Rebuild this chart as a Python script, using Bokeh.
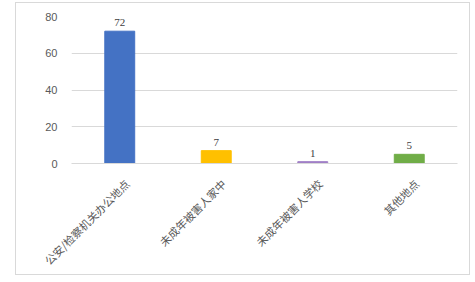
import math
from bokeh.plotting import figure
from bokeh.models import ColumnDataSource, LabelSet, FixedTicker, Range1d, LinearAxis
from bokeh.embed import file_html
from bokeh.resources import INLINE

categories = ["公安/检察机关办公地点", "未成年被害人家中", "未成年被害人学校", "其他地点"]
counts = [72, 7, 1, 5]
colors = ["#4472C4", "#FFC000", "#A17FC6", "#70AD47"]
y_ticks = [0, 20, 40, 60, 80]

n = len(categories)
pos = list(range(n))
src = ColumnDataSource(dict(x=pos, val=counts, col=colors, txt=[str(v) for v in counts]))

p = figure(x_range=Range1d(-0.5, n - 0.5), y_range=(0, 80), width=455, height=273,
           output_backend="svg", toolbar_location=None,
           min_border_left=55, min_border_right=14, min_border_top=13, min_border_bottom=10)
p.margin = (2, 0, 0, 15)
p.styles = {"border": "1px solid #d9d9d9"}
p.vbar(x="x", top="val", width=0.31, color="col", source=src)

labels = LabelSet(x="x", y="val", text="txt", source=src, text_align="center",
                  text_baseline="bottom", y_offset=5, text_font_size="11px",
                  text_color="#404040", text_font="Noto Sans CJK SC")
p.add_layout(labels)

# label axis, shifted slightly to the right of the bar centres
shift = 0.075
p.extra_x_ranges = {"lab": Range1d(-0.5 - shift, n - 0.5 - shift)}
lab_axis = LinearAxis(x_range_name="lab", ticker=FixedTicker(ticks=pos),
                      major_label_overrides={i: c for i, c in zip(pos, categories)})
lab_axis.axis_line_color = "#d9d9d9"
lab_axis.major_tick_line_color = None
lab_axis.minor_tick_line_color = None
lab_axis.major_label_orientation = math.pi / 4
lab_axis.major_label_text_color = "#595959"
lab_axis.major_label_text_font_size = "11px"
lab_axis.major_label_text_font = "Noto Sans CJK SC"
lab_axis.major_label_standoff = 12
p.xaxis.visible = False
p.add_layout(lab_axis, "below")

p.outline_line_color = None
p.xgrid.grid_line_color = None
p.ygrid.grid_line_color = "#d9d9d9"
p.yaxis.ticker = FixedTicker(ticks=y_ticks)
p.yaxis.axis_line_color = None
p.yaxis.major_tick_line_color = None
p.yaxis.minor_tick_line_color = None
p.yaxis.major_label_text_color = "#595959"
p.yaxis.major_label_text_font_size = "11px"
p.yaxis.major_label_standoff = 8

open("out.html", "w").write(file_html(p, INLINE))
